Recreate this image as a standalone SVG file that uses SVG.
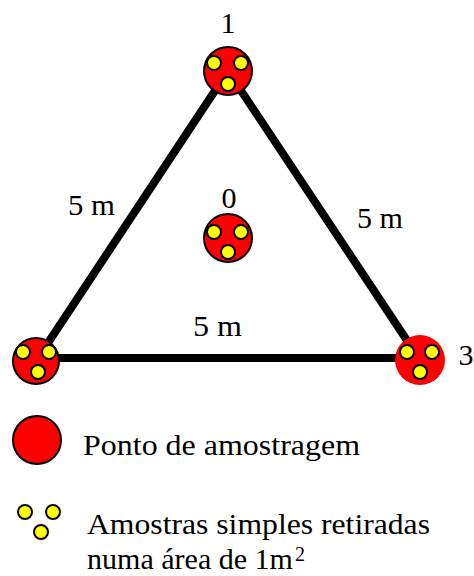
<svg xmlns="http://www.w3.org/2000/svg" width="474" height="576" viewBox="0 0 474 576">
<style>
.t{font-family:"Liberation Serif","Times New Roman",serif;font-size:30px;fill:#000}
.pt{fill:#ff0000;stroke:#000;stroke-width:2}
.pt3{fill:#ff0000}
.s{fill:#ffff00;stroke:#000;stroke-width:2}
.e{stroke:#000;stroke-width:8;fill:none}
</style>
<rect width="474" height="576" fill="#fff"/>
<g id="connectors">
<line class="e" x1="228" y1="71" x2="36" y2="361"/>
<line class="e" x1="228" y1="71" x2="420" y2="360"/>
<line class="e" x1="36" y1="358" x2="420" y2="358"/>
<text class="t" x="68" y="215" textLength="47" lengthAdjust="spacingAndGlyphs">5 m</text>
<text class="t" x="357" y="228" textLength="46" lengthAdjust="spacingAndGlyphs">5 m</text>
<text class="t" x="193" y="336" textLength="49" lengthAdjust="spacingAndGlyphs">5 m</text>
</g>
<g id="node1">
<circle class="pt" cx="228" cy="71" r="24"/>
<circle class="s" cx="214" cy="63" r="7"/>
<circle class="s" cx="241" cy="63" r="7"/>
<circle class="s" cx="228" cy="84" r="7"/>
<text class="t" x="228" y="33" text-anchor="middle">1</text>
</g>
<g id="node0">
<circle class="pt" cx="228" cy="238" r="24"/>
<circle class="s" cx="214" cy="232" r="7"/>
<circle class="s" cx="241" cy="232" r="7"/>
<circle class="s" cx="228" cy="252" r="7"/>
<text class="t" x="229" y="208" text-anchor="middle">0</text>
</g>
<g id="node2">
<circle class="pt" cx="36" cy="361" r="23"/>
<circle class="s" cx="23" cy="352" r="7"/>
<circle class="s" cx="49" cy="352" r="7"/>
<circle class="s" cx="38" cy="372" r="7"/>
</g>
<g id="node3">
<circle class="pt3" cx="420" cy="360" r="25"/>
<circle class="s" cx="407" cy="352" r="7"/>
<circle class="s" cx="432" cy="352" r="7"/>
<circle class="s" cx="420" cy="372" r="7"/>
<text class="t" x="466" y="365" text-anchor="middle">3</text>
</g>
<g id="legend-point">
<circle class="pt" cx="37" cy="440" r="24"/>
<text class="t" x="83" y="455" textLength="277" lengthAdjust="spacingAndGlyphs">Ponto de amostragem</text>
</g>
<g id="legend-samples">
<circle class="s" cx="25" cy="512" r="7"/>
<circle class="s" cx="53" cy="512" r="7"/>
<circle class="s" cx="41" cy="532" r="7"/>
<text class="t" x="87" y="534" textLength="343" lengthAdjust="spacingAndGlyphs">Amostras simples retiradas</text>
<text class="t" x="87" y="569" textLength="206" lengthAdjust="spacingAndGlyphs">numa área de 1m</text>
<text class="t" x="295" y="561" style="font-size:20px">2</text>
</g>
</svg>
